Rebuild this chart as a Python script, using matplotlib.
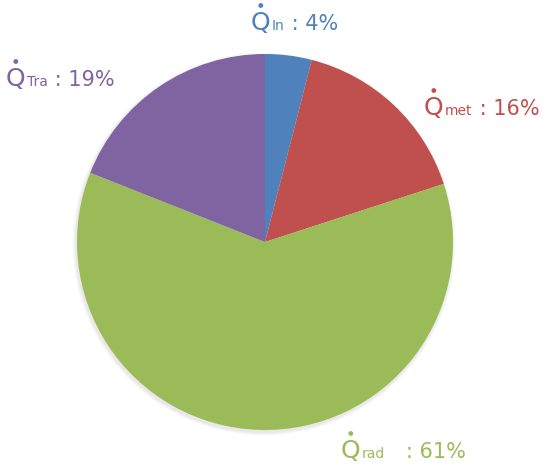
import matplotlib.pyplot as plt
from matplotlib.patches import Circle

# heat flow shares
names = ["In", "met", "rad", "Tra"]
shares = [4, 16, 61, 19]
colors = ["#4F81BD", "#C0504D", "#9BBB59", "#8064A2"]

# label anchors: left edge and baseline (pixels from top-left)
label_pos = [(251, 30), (424, 115), (341, 458), (6, 86)]
label_gap = [" ", " ", "   ", " "]

W, H = 550, 468
fig = plt.figure(figsize=(W / 100, H / 100), dpi=100)
ax = fig.add_axes([0, 0, 1, 1])

cx, cy, r = 265, H - 242, 188

# faint shadow under the pie
for i in range(5):
    ax.add_patch(Circle((cx - 1, cy - 2), r + 0.5 + i * 0.7, color="gray",
                        alpha=0.035, lw=0, zorder=0))

ax.pie(shares, colors=colors, startangle=90, counterclock=False,
       center=(cx, cy), radius=r, frame=True,
       wedgeprops=dict(linewidth=0))
ax.set_xlim(0, W)
ax.set_ylim(0, H)
ax.set_aspect("equal")
ax.axis("off")

renderer = fig.canvas.get_renderer()

for n, s, c, (x, y), g in zip(names, shares, colors, label_pos, label_gap):
    base = H - y
    q = ax.text(x, base, "Q", color=c, fontsize=18, ha="left", va="baseline")
    qw = q.get_window_extent(renderer).width
    # dot over the Q (time derivative)
    ax.add_patch(Circle((x + qw / 2, base + 24.5), 2.4, color=c, lw=0))
    px = x + qw + 1
    sub = ax.text(px, base, n, color=c, fontsize=10, ha="left", va="baseline")
    px += sub.get_window_extent(renderer).width + 1
    ax.text(px, base, g + ": %d%%" % s, color=c, fontsize=15, ha="left",
            va="baseline")

fig.savefig("out.png", dpi=100)
